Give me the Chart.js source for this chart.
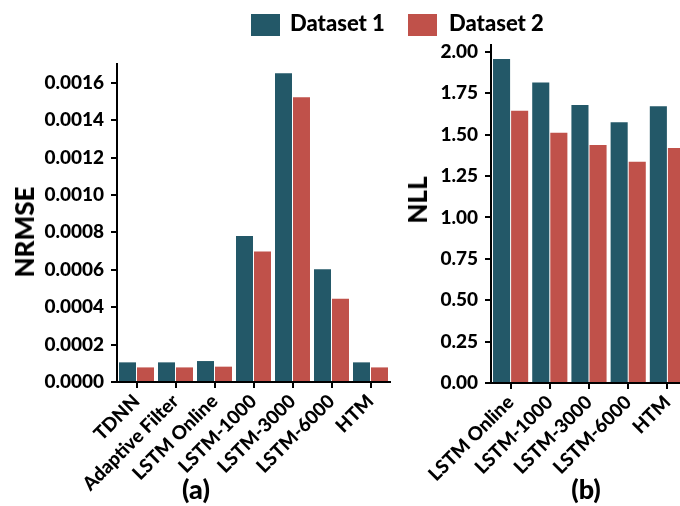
<!DOCTYPE html>
<html>
<head>
<meta charset="utf-8">
<script src="https://cdn.jsdelivr.net/npm/chart.js@4"></script>
<style>
  html, body { margin: 0; padding: 0; background: #fff; overflow: hidden; }
  body { width: 680px; height: 506px; position: relative; font-family: Lato, sans-serif; font-weight: 900; color: #000; }
  canvas { position: absolute; top: 0; }
  #cA { left: 0; }
  #cB { left: 400px; }
  .txt { position: absolute; white-space: nowrap; line-height: 1; }
  .sw { position: absolute; width: 29px; height: 22px; top: 14px; }
  .ytitle { position: absolute; font-size: 26px; line-height: 1; transform: translate(-50%, -50%) rotate(-90deg); white-space: nowrap; }
  .cap { position: absolute; font-size: 27px; line-height: 1; transform: translateX(-50%); }
</style>
</head>
<body>
<canvas id="cA" width="400" height="506"></canvas>
<canvas id="cB" width="290" height="506"></canvas>

<div class="sw" style="left:251px; background:#235868"></div>
<div class="txt" style="left:290px; top:12px; font-size:22px;">Dataset 1</div>
<div class="sw" style="left:408px; background:#c0514a"></div>
<div class="txt" style="left:449px; top:12px; font-size:22px;">Dataset 2</div>

<div class="ytitle" style="left:24px; top:232px;">NRMSE</div>
<div class="ytitle" style="left:417px; top:200px;">NLL</div>

<div class="cap" style="left:196px; top:475px;">(a)</div>
<div class="cap" style="left:586px; top:475px;">(b)</div>

<script>
// Panel (a): normalised RMSE per model
const modelsA = ['TDNN', 'Adaptive Filter', 'LSTM Online', 'LSTM-1000', 'LSTM-3000', 'LSTM-6000', 'HTM'];
const nrmseSet1 = [0.000105, 0.000105, 0.000112, 0.00078, 0.00165, 0.000603, 0.000105];
const nrmseSet2 = [0.000078, 0.000078, 0.000082, 0.000697, 0.001522, 0.000445, 0.000078];
const nrmseTicks = { min: 0, max: 0.0017, step: 0.0002 };

// Panel (b): negative log-likelihood per model
const modelsB = ['LSTM Online', 'LSTM-1000', 'LSTM-3000', 'LSTM-6000', 'HTM'];
const nllSet1 = [1.958, 1.816, 1.68, 1.576, 1.672];
const nllSet2 = [1.645, 1.512, 1.438, 1.336, 1.42];
const nllTicks = { min: 0, max: 2.042, step: 0.25 };

const seriesNames = ['Dataset 1', 'Dataset 2'];
const COLORS = ['#235868', '#c0514a'];
const FONT = { family: 'Lato, sans-serif', weight: '900', size: 19 };

function makeChart(id, labels, s1, s2, yr, digits, yWidth, padTop, padRight, xHeight) {
  return new Chart(document.getElementById(id), {
    type: 'bar',
    data: {
      labels: labels,
      datasets: [
        { label: seriesNames[0], data: s1, backgroundColor: COLORS[0] },
        { label: seriesNames[1], data: s2, backgroundColor: COLORS[1] }
      ]
    },
    options: {
      responsive: false,
      animation: false,
      devicePixelRatio: 1,
      categoryPercentage: 0.923,
      barPercentage: 0.944,
      layout: { padding: { top: padTop, right: padRight, left: 0, bottom: 0 } },
      plugins: { legend: { display: false }, tooltip: { enabled: false } },
      scales: {
        x: {
          offset: true,
          grid: { display: true, drawOnChartArea: false, drawTicks: true, tickLength: 6, lineWidth: 2, color: '#000', offset: false },
          border: { display: true, color: '#000', width: 2 },
          ticks: { color: '#000', font: FONT, minRotation: 45, maxRotation: 45, padding: 2, autoSkip: false },
          afterFit: s => { s.height = xHeight; }
        },
        y: {
          min: yr.min, max: yr.max,
          grid: { display: true, drawOnChartArea: false, drawTicks: true, tickLength: 6, lineWidth: 2, color: '#000' },
          border: { display: true, color: '#000', width: 2 },
          ticks: {
            stepSize: yr.step, includeBounds: false, color: '#000', font: FONT, padding: 7,
            callback: v => Number(v).toFixed(digits)
          },
          afterFit: s => { s.width = yWidth; }
        }
      }
    }
  });
}

makeChart('cA', modelsA, nrmseSet1, nrmseSet2, nrmseTicks, 4, 117, 64, 10, 124);
makeChart('cB', modelsB, nllSet1, nllSet2, nllTicks, 2, 91, 45, 3, 123);
</script>
</body>
</html>
